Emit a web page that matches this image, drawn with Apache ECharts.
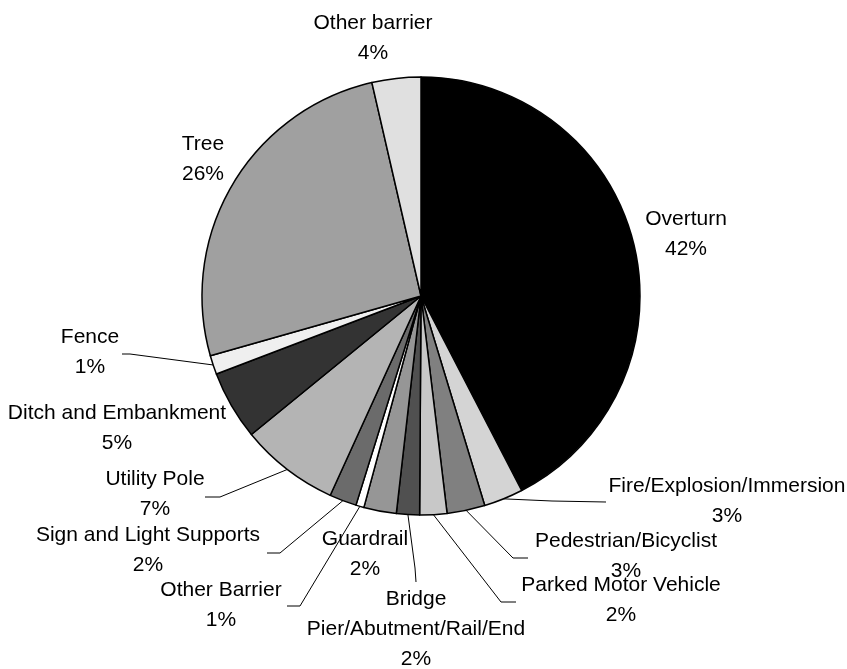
<!DOCTYPE html>
<html>
<head>
<meta charset="utf-8">
<script src="https://cdn.jsdelivr.net/npm/echarts@6/dist/echarts.min.js"></script>
<style>
  html, body { margin: 0; padding: 0; background: #fff; }
  #chart { width: 847px; height: 669px; }
</style>
</head>
<body>
<div id="chart"></div>
<script>
// slice order: clockwise from 12 o'clock
const names = [
  'Overturn',
  'Fire/Explosion/Immersion',
  'Pedestrian/Bicyclist',
  'Parked Motor Vehicle',
  'Bridge\nPier/Abutment/Rail/End',
  'Guardrail',
  'Other Barrier',
  'Sign and Light Supports',
  'Utility Pole',
  'Ditch and Embankment',
  'Fence',
  'Tree',
  'Other barrier'
]
const shares = [42.4, 2.9, 2.8, 2.0, 1.7, 2.4, 0.6, 2.0, 7.3, 5.1, 1.4, 25.8, 3.6]
const colors = [
  '#000000', '#d4d4d4', '#808080', '#c8c8c8', '#505050', '#969696', '#ffffff',
  '#6b6b6b', '#b4b4b4', '#333333', '#efefef', '#a0a0a0', '#e0e0e0'
]

// label block centres, and leader line elbow/end (null = no leader)
const labelPos = [
  [686, 234], [727, 501], [626, 556], [621, 600], [416, 629], [365, 554], [221, 605],
  [148, 550], [155, 494], [117, 428], [90, 352], [203, 159], [373, 38]
]
const leaders = [
  null,
  [[552, 501], [606, 502]],
  [[513, 558], [528, 558]],
  [[501, 602], [516, 602]],
  [[415, 568], [416, 582]],
  null,
  [[300, 606], [287, 606]],
  [[280, 553], [267, 553]],
  [[220, 497], [205, 497]],
  null,
  [[130, 354], [122, 354]],
  null,
  null
]

const chart = echarts.init(document.getElementById('chart'))
chart.setOption({
  animation: false,
  series: [
    {
      type: 'pie',
      center: [421, 296],
      radius: 219,
      startAngle: 90,
      clockwise: true,
      avoidLabelOverlap: false,
      emphasis: { disabled: true },
      itemStyle: { borderColor: '#000', borderWidth: 1.5 },
      label: {
        show: true,
        position: 'outside',
        color: '#000',
        fontFamily: 'Liberation Sans, Arial, sans-serif',
        fontSize: 21,
        lineHeight: 30,
        align: 'center',
        formatter: (p) => p.name + '\n' + Math.round(p.value) + '%'
      },
      labelLine: { show: true, length: 10, length2: 10, lineStyle: { color: '#000', width: 1 } },
      labelLayout: (params) => {
        const i = params.dataIndex
        const out = { x: labelPos[i][0], y: labelPos[i][1], align: 'center', verticalAlign: 'middle' }
        if (leaders[i] && params.labelLinePoints) {
          out.labelLinePoints = [params.labelLinePoints[0], leaders[i][0], leaders[i][1]]
        }
        return out
      },
      data: names.map((n, i) => ({
        name: n,
        value: shares[i],
        itemStyle: { color: colors[i] },
        labelLine: { show: !!leaders[i] }
      }))
    }
  ]
})
</script>
</body>
</html>
